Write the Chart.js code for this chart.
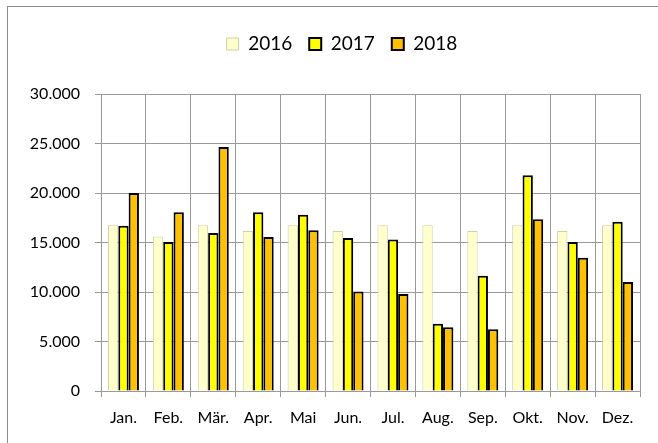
<!DOCTYPE html>
<html>
<head>
<meta charset="utf-8">
<script src="https://cdn.jsdelivr.net/npm/chart.js@4"></script>
<style>
  html, body { margin: 0; padding: 0; background: #fff; overflow: hidden; }
  #wrap { position: relative; width: 658px; height: 443px; overflow: hidden; }
  #frame { position: absolute; left: 7px; top: 6px; width: 700px; height: 500px; border: 1px solid #8c8c8c; }
  #chart { position: absolute; left: 0; top: 0; }
</style>
</head>
<body>
<div id="wrap">
  <div id="frame"></div>
  <canvas id="chart" width="658" height="443"></canvas>
</div>
<script>
// --- Daten ---
const months = ['Jan.', 'Feb.', 'Mär.', 'Apr.', 'Mai', 'Jun.', 'Jul.', 'Aug.', 'Sep.', 'Okt.', 'Nov.', 'Dez.'];
const years = ['2016', '2017', '2018'];
const values2016 = [16750, 15600, 16750, 16150, 16750, 16150, 16750, 16750, 16150, 16750, 16150, 16750];
const values2017 = [16700, 15050, 15950, 18050, 17800, 15450, 15300, 6800, 11650, 21800, 15050, 17100];
const values2018 = [20000, 18050, 24650, 15550, 16250, 10050, 9800, 6450, 6250, 17350, 13450, 11000];
const yTicks = [0, 5000, 10000, 15000, 20000, 25000, 30000];
const yTickLabels = ['0', '5.000', '10.000', '15.000', '20.000', '25.000', '30.000'];

const gridColor = '#999999';
const fontFamily = 'Lato, "Liberation Sans", sans-serif';

// Legende höher machen, damit der Plotbereich tiefer beginnt
const legendSpacer = {
    id: 'legendSpacer',
    beforeLayout(chart) {
        const legend = chart.legend;
        if (!legend || legend._patched) return;
        const fit = legend.fit;
        legend.fit = function () { fit.call(this); this.height += 30.5; };
        legend._patched = true;
    }
};

const ctx = document.getElementById('chart').getContext('2d');
new Chart(ctx, {
    type: 'bar',
    data: {
        labels: months,
        datasets: [
            { label: years[0], data: values2016, backgroundColor: '#FFFFCC', borderColor: '#CFCFA6', borderWidth: 1 },
            { label: years[1], data: values2017, backgroundColor: '#FFFF00', borderColor: '#000000', borderWidth: 2 },
            { label: years[2], data: values2018, backgroundColor: '#FFC000', borderColor: '#000000', borderWidth: 2 }
        ]
    },
    options: {
        responsive: false, animation: false, devicePixelRatio: 1,
        categoryPercentage: 0.69, barPercentage: 1.0,
        layout: { padding: { left: 30, right: 4, top: 17.5, bottom: 10 } },
        scales: {
            x: {
                grid: { color: gridColor, offset: true, tickLength: 6, lineWidth: 1 },
                border: { color: gridColor },
                ticks: { color: '#000', font: { family: fontFamily, size: 16 }, padding: 11, maxRotation: 0, autoSkip: false },
                afterFit(scale) { scale.height = 42; }
            },
            y: {
                min: 0, max: 30000,
                afterBuildTicks(scale) { scale.ticks = yTicks.map(v => ({ value: v })); },
                grid: { color: gridColor, tickLength: 6, lineWidth: 1 },
                border: { color: gridColor },
                ticks: {
                    color: '#000', font: { family: fontFamily, size: 16 }, padding: 15,
                    callback: (value) => yTickLabels[yTicks.indexOf(value)]
                },
                afterFit(scale) { scale.width = 71; }
            },
            // leere Achse rechts, nur als Abstand
            yRight: {
                type: 'linear', position: 'right', min: 0, max: 30000,
                grid: { display: false }, border: { display: false }, ticks: { display: false },
                afterFit(scale) { scale.width = 14; }
            }
        },
        plugins: {
            legend: {
                position: 'top',
                labels: { color: '#000', font: { family: fontFamily, size: 19 }, boxWidth: 12, boxHeight: 12, padding: 17 }
            },
            tooltip: { enabled: false }
        }
    },
    plugins: [legendSpacer]
});
</script>
</body>
</html>
